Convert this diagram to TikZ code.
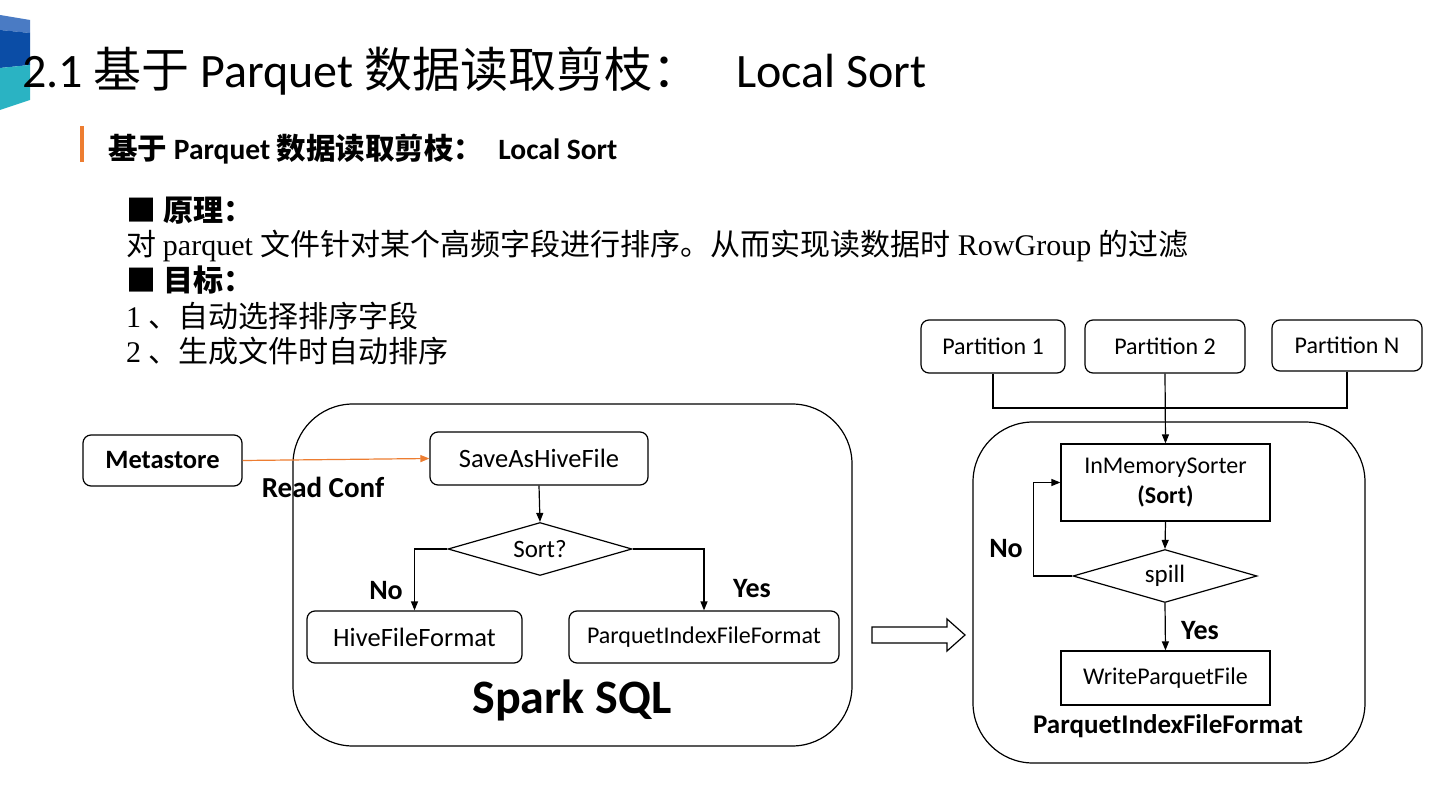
\documentclass[tikz,border=0pt]{standalone}
\usepackage{fontspec}
\setmainfont{Carlito}
\newfontfamily\cjk{Noto Sans CJK SC}
\newfontfamily\tms{Liberation Serif}
\usetikzlibrary{shapes.geometric,arrows.meta,positioning}
\definecolor{logolight}{HTML}{4A7BC4}
\definecolor{logodark}{HTML}{0B4DA6}
\definecolor{logoteal}{HTML}{2AB3C3}
\definecolor{accent}{HTML}{ED7D31}

\begin{document}
\begin{tikzpicture}[x=1pt,y=-1pt,
	rbox/.style={draw,rounded corners=8pt,line width=1.2pt,inner sep=0pt,font=\fontsize{26.5}{28}\selectfont},
	sbox/.style={draw,line width=1.2pt,inner sep=0pt,align=center,font=\fontsize{24}{30}\selectfont},
	decide/.style={diamond,draw,aspect=3.5,line width=1.2pt,inner sep=0pt,minimum width=184pt,minimum height=53pt,font=\fontsize{25}{26}\selectfont},
	frame/.style={draw,rounded corners=60pt,line width=1.2pt},
	lbl/.style={font=\bfseries\fontsize{28}{30}\selectfont},
	arr/.style={-{Triangle[length=9pt,width=7pt]},line width=1.2pt},
	line/.style={line width=1.2pt},
	bodytext/.style={anchor=base west,inner sep=0pt,font=\fontsize{30}{35}\selectfont}]
	\useasboundingbox[fill=white] (0,0) rectangle (1440,810);
	% logo
	\fill[logolight] (0,15) -- (30,20) -- (30,33) -- (0,30) -- cycle;
	\fill[logodark] (0,30) -- (30,33) -- (30,65) -- (0,68) -- cycle;
	\fill[logoteal] (0,68) -- (30,65) -- (30,100) -- (0,110) -- cycle;
	% headings
	\node[anchor=base west,inner sep=0pt,font=\fontsize{48}{50}\selectfont] (title) at (22,88)
		{2.1 {\cjk 基于} Parquet {\cjk 数据读取剪枝：}\hspace{36pt}Local Sort};
	\fill[accent] (80,126) rectangle (84,162);
	\node[anchor=base west,inner sep=0pt,font=\bfseries\fontsize{29.5}{30}\selectfont] (subtitle) at (108,160)
		{{\cjk 基于} Parquet {\cjk 数据读取剪枝：}\hspace{15pt}Local Sort};
	% text lines
	\node[bodytext] (idea) at (126,222) {\cjk\bfseries ■ 原理：};
	\node[bodytext] (ideatext) at (126,256) {{\cjk 对} \tms parquet {\cjk 文件针对某个高频字段进行排序。从而实现读数据时} RowGroup {\cjk 的过滤}};
	\node[bodytext] (goal) at (126,292) {\cjk\bfseries ■ 目标：};
	\node[bodytext] (goal1) at (126,327) {\tms 1 {\cjk 、自动选择排序字段}};
	\node[bodytext] (goal2) at (126,362) {\tms 2 {\cjk 、生成文件时自动排序}};
	% Spark SQL side
	\node[frame,minimum width=559pt,minimum height=342pt] (spark) at (572.5,575) {};
	\node[rbox,minimum width=159pt,minimum height=51pt,font=\bfseries\fontsize{26.5}{28}\selectfont] (meta) at (162.5,460.5) {Metastore};
	\node[rbox,minimum width=218pt,minimum height=53pt] (save) at (539,458.5) {SaveAsHiveFile};
	\node[decide] (sort) at (540,549) {Sort?};
	\node[rbox,minimum width=215pt,minimum height=52pt] (hive) at (414.5,637) {HiveFileFormat};
	\node[rbox,minimum width=270pt,minimum height=52pt,font=\fontsize{24}{26}\selectfont] (pif) at (704,637) {ParquetIndexFileFormat};
	\node[lbl,font=\bfseries\fontsize{29}{30}\selectfont] (readconf) at (323,487) {Read Conf};
	\node[lbl] (no1) at (386,591) {No};
	\node[lbl] (yes1) at (752,589) {Yes};
	\node[font=\bfseries\fontsize{48}{50}\selectfont] (sparklbl) at (572,700) {Spark SQL};
	\draw[arr,accent] (meta.east) -- (save.west);
	\draw[arr] (save.south) -- (sort.north);
	\draw[arr] (sort.west) -| (hive.north);
	\draw[arr] (sort.east) -| (pif.north);
	% hollow arrow
	\draw[line] (872,627) -- (947,627) -- (947,619) -- (965,635) -- (947,651) -- (947,643) -- (872,643) -- cycle;
	% partitions
	\node[rbox,minimum width=144pt,minimum height=53pt,font=\fontsize{24}{26}\selectfont] (p1) at (993,346.5) {Partition 1};
	\node[rbox,minimum width=160pt,minimum height=53pt,font=\fontsize{24}{26}\selectfont] (p2) at (1165,346.5) {Partition 2};
	\node[rbox,minimum width=150pt,minimum height=51pt,font=\fontsize{24}{26}\selectfont] (pn) at (1347,345.5) {Partition N};
	\coordinate (join) at (1165,408);
	\draw[line] (p1.south) |- (join) -| (pn.south);
	% ParquetIndexFileFormat side
	\node[frame,minimum width=392pt,minimum height=341pt] (pifbox) at (1169,592.5) {};
	\node[sbox,minimum width=209pt,minimum height=77pt] (sorter) at (1165.5,482.5) {InMemorySorter\\\textbf{(Sort)}};
	\node[decide] (spill) at (1165,576) {spill};
	\node[sbox,minimum width=209pt,minimum height=54pt] (write) at (1165.5,678) {WriteParquetFile};
	\node[lbl] (no2) at (1006,549) {No};
	\node[lbl] (yes2) at (1200,631) {Yes};
	\node[font=\bfseries\fontsize{27}{28}\selectfont] (piflbl) at (1168,726) {ParquetIndexFileFormat};
	\draw[arr] (p2.south) -- (sorter.north);
	\draw[arr] (sorter.south) -- (spill.north);
	\draw[arr] (spill.west) -- ++(-39,0) |- (sorter.west);
	\draw[arr] (spill.south) -- (write.north);
\end{tikzpicture}
\end{document}
